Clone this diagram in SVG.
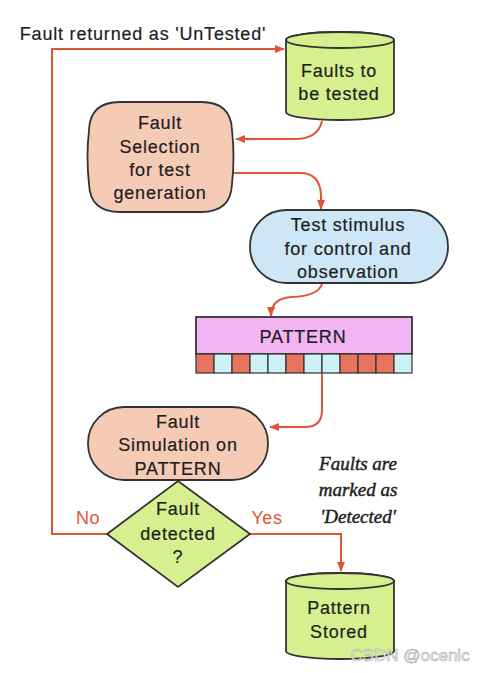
<svg xmlns="http://www.w3.org/2000/svg" width="488" height="673" viewBox="0 0 488 673">
<defs>
<marker id="ah" markerWidth="10" markerHeight="10" refX="9" refY="5" orient="auto" markerUnits="userSpaceOnUse">
<path d="M0,1 L10,5 L0,9 Z" fill="#e0553a"/>
</marker>
<style>
.t{font-family:"Liberation Sans",Arial,sans-serif;font-size:18px;letter-spacing:0.8px;fill:#1e1e1e;stroke:#1e1e1e;stroke-width:0.2px;text-anchor:middle;dominant-baseline:central}
.lbl{font-family:"Liberation Sans",Arial,sans-serif;font-size:18px;letter-spacing:0.6px;fill:#e0553a;text-anchor:middle;dominant-baseline:central}
.note{font-family:"Liberation Serif","Times New Roman",serif;font-style:italic;font-size:19px;fill:#1e1e1e;stroke:#1e1e1e;stroke-width:0.45px;text-anchor:middle;dominant-baseline:central}
.n{stroke:#333;stroke-width:1.8}
.c{fill:none;stroke:#e0553a;stroke-width:2;marker-end:url(#ah)}
.red{fill:#e8735f;stroke:#333;stroke-width:1.2}
.cy{fill:#cdf1f6;stroke:#333;stroke-width:1.2}
</style>
</defs>
<rect width="488" height="673" fill="#ffffff"/>

<g id="connectors">
<path class="c" d="M107,534 H52 V49 H284"/>
<path class="c" d="M322,121 Q318,139 295,139 H236"/>
<path class="c" d="M234,173 H300 Q320,173 321,195 V209"/>
<path class="c" d="M322,284 Q318,296 292,297 Q271,298 271,316"/>
<path class="c" d="M322,374 V410 Q322,427 305,427 H270"/>
<path class="c" d="M250,534 H341 V571"/>
</g>

<text class="t" x="143" y="34">Fault returned as 'UnTested'</text>

<g id="faults-to-be-tested">
<path class="n" fill="#d6f08f" d="M286,40 V112 A54,8 0 0 0 394,112 V40 A54,8 0 0 0 286,40 Z"/>
<ellipse class="n" fill="#d6f08f" cx="340" cy="40" rx="54" ry="8"/>
<text class="t" x="339" y="71">Faults to</text>
<text class="t" x="339" y="94">be tested</text>
</g>

<g id="fault-selection">
<path class="n" fill="#f6cbb6" d="M120,102 H201 Q231,102 232,130 Q235,157 232,184 Q231,212 201,212 H120 Q90,212 89,184 Q86,157 89,130 Q90,102 120,102 Z"/>
<text class="t" x="160" y="123">Fault</text>
<text class="t" x="160" y="147">Selection</text>
<text class="t" x="160" y="170">for test</text>
<text class="t" x="160" y="193">generation</text>
</g>

<g id="test-stimulus">
<rect class="n" fill="#cde7f6" x="250" y="210" width="198" height="73" rx="36" ry="36"/>
<text class="t" x="348" y="225">Test stimulus</text>
<text class="t" x="348" y="249">for control and</text>
<text class="t" x="348" y="272">observation</text>
</g>

<g id="pattern">
<rect class="n" fill="#f2b4f2" x="196" y="317" width="216" height="37"/>
<text class="t" x="303" y="337">PATTERN</text>
<rect class="red" x="196" y="354" width="18" height="19"/>
<rect class="cy" x="214" y="354" width="18" height="19"/>
<rect class="red" x="232" y="354" width="18" height="19"/>
<rect class="cy" x="250" y="354" width="18" height="19"/>
<rect class="cy" x="268" y="354" width="18" height="19"/>
<rect class="red" x="286" y="354" width="18" height="19"/>
<rect class="cy" x="304" y="354" width="18" height="19"/>
<rect class="cy" x="322" y="354" width="18" height="19"/>
<rect class="red" x="340" y="354" width="18" height="19"/>
<rect class="red" x="358" y="354" width="18" height="19"/>
<rect class="red" x="376" y="354" width="18" height="19"/>
<rect class="cy" x="394" y="354" width="18" height="19"/>
</g>

<g id="fault-simulation">
<rect class="n" fill="#f6cbb6" x="88" y="407" width="180" height="73" rx="36" ry="36"/>
<text class="t" x="178" y="422">Fault</text>
<text class="t" x="178" y="445">Simulation on</text>
<text class="t" x="178" y="469">PATTERN</text>
</g>

<g id="fault-detected">
<path class="n" fill="#d6f08f" d="M178,481 L250,534 L178,587 L107,534 Z"/>
<text class="t" x="178" y="509">Fault</text>
<text class="t" x="178" y="534">detected</text>
<text class="t" x="178" y="557">?</text>
</g>

<text class="lbl" x="88" y="518">No</text>
<text class="lbl" x="267" y="518">Yes</text>

<g id="note">
<text class="note" x="358" y="463">Faults are</text>
<text class="note" x="358" y="489">marked as</text>
<text class="note" x="358" y="516">'Detected'</text>
</g>

<g id="pattern-stored">
<path class="n" fill="#d6f08f" d="M286,581 V651 A54,8 0 0 0 394,651 V581 A54,8 0 0 0 286,581 Z"/>
<ellipse class="n" fill="#d6f08f" cx="340" cy="581" rx="54" ry="8"/>
<text class="t" x="339" y="608">Pattern</text>
<text class="t" x="339" y="632">Stored</text>
</g>

<text x="410" y="655" font-family="'Liberation Sans',Arial,sans-serif" font-size="17" fill="#ffffff" stroke="#9a9a9a" stroke-width="0.6" text-anchor="middle" dominant-baseline="central" opacity="0.9">CSDN @ocenic</text>
</svg>
